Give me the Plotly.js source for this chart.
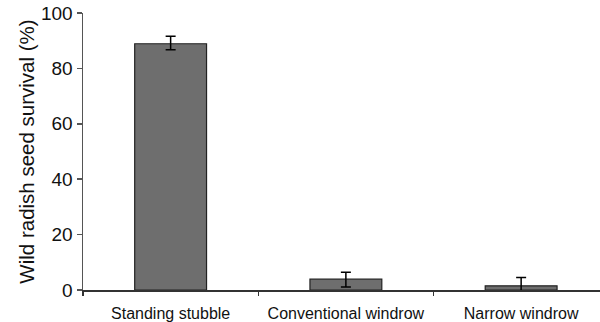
<!DOCTYPE html>
<html>
<head>
<meta charset="utf-8">
<script src="https://cdn.plot.ly/plotly-3.0.1.min.js"></script>
<style>html,body{margin:0;padding:0;overflow:hidden;background:#fff;}</style>
</head>
<body>
<div id="chart" style="width:600px;height:322px;"></div>
<script>
const categories = ["Standing stubble", "Conventional windrow", "Narrow windrow"];
const survival = [88.9, 3.9, 1.5];
const errPlus = [2.7, 2.5, 3.0];
const errMinus = [2.2, 2.8, 3.0];
const yTicks = [0, 20, 40, 60, 80, 100];

const trace = {
  type: "bar",
  x: categories,
  y: survival,
  width: 0.41,
  marker: {color: "#6e6e6e", line: {color: "#222222", width: 1.2}},
  error_y: {type: "data", symmetric: false, array: errPlus, arrayminus: errMinus,
            color: "#000000", thickness: 1.5, width: 5},
  hoverinfo: "none"
};

const layout = {
  width: 600, height: 322,
  margin: {l: 83, r: 0, t: 13, b: 32},
  paper_bgcolor: "#ffffff", plot_bgcolor: "#ffffff",
  showlegend: false,
  font: {family: "Liberation Sans, Arial, sans-serif", color: "#111"},
  xaxis: {
    type: "category", range: [-0.5, 2.45],
    showline: true, linecolor: "#333", linewidth: 1.5,
    ticks: "outside", tickson: "boundaries", ticklen: 4, tickcolor: "#333", tickwidth: 1.5,
    tickfont: {size: 16, color: "#111"}, ticklabelstandoff: 8,
    showgrid: false, zeroline: false, fixedrange: true
  },
  yaxis: {
    range: [0, 100], tickvals: yTicks, ticktext: yTicks.map(String),
    showline: true, linecolor: "#555", linewidth: 1.5,
    ticks: "outside", ticklen: 5, tickcolor: "#555", tickwidth: 1.5,
    tickfont: {size: 19, color: "#111"},
    showgrid: false, zeroline: false,
    title: {text: "Wild radish seed survival (%)", font: {size: 20.5, color: "#111"}, standoff: 1}
  }
};

Plotly.newPlot("chart", [trace], layout, {displayModeBar: false, staticPlot: true});
</script>
</body>
</html>
